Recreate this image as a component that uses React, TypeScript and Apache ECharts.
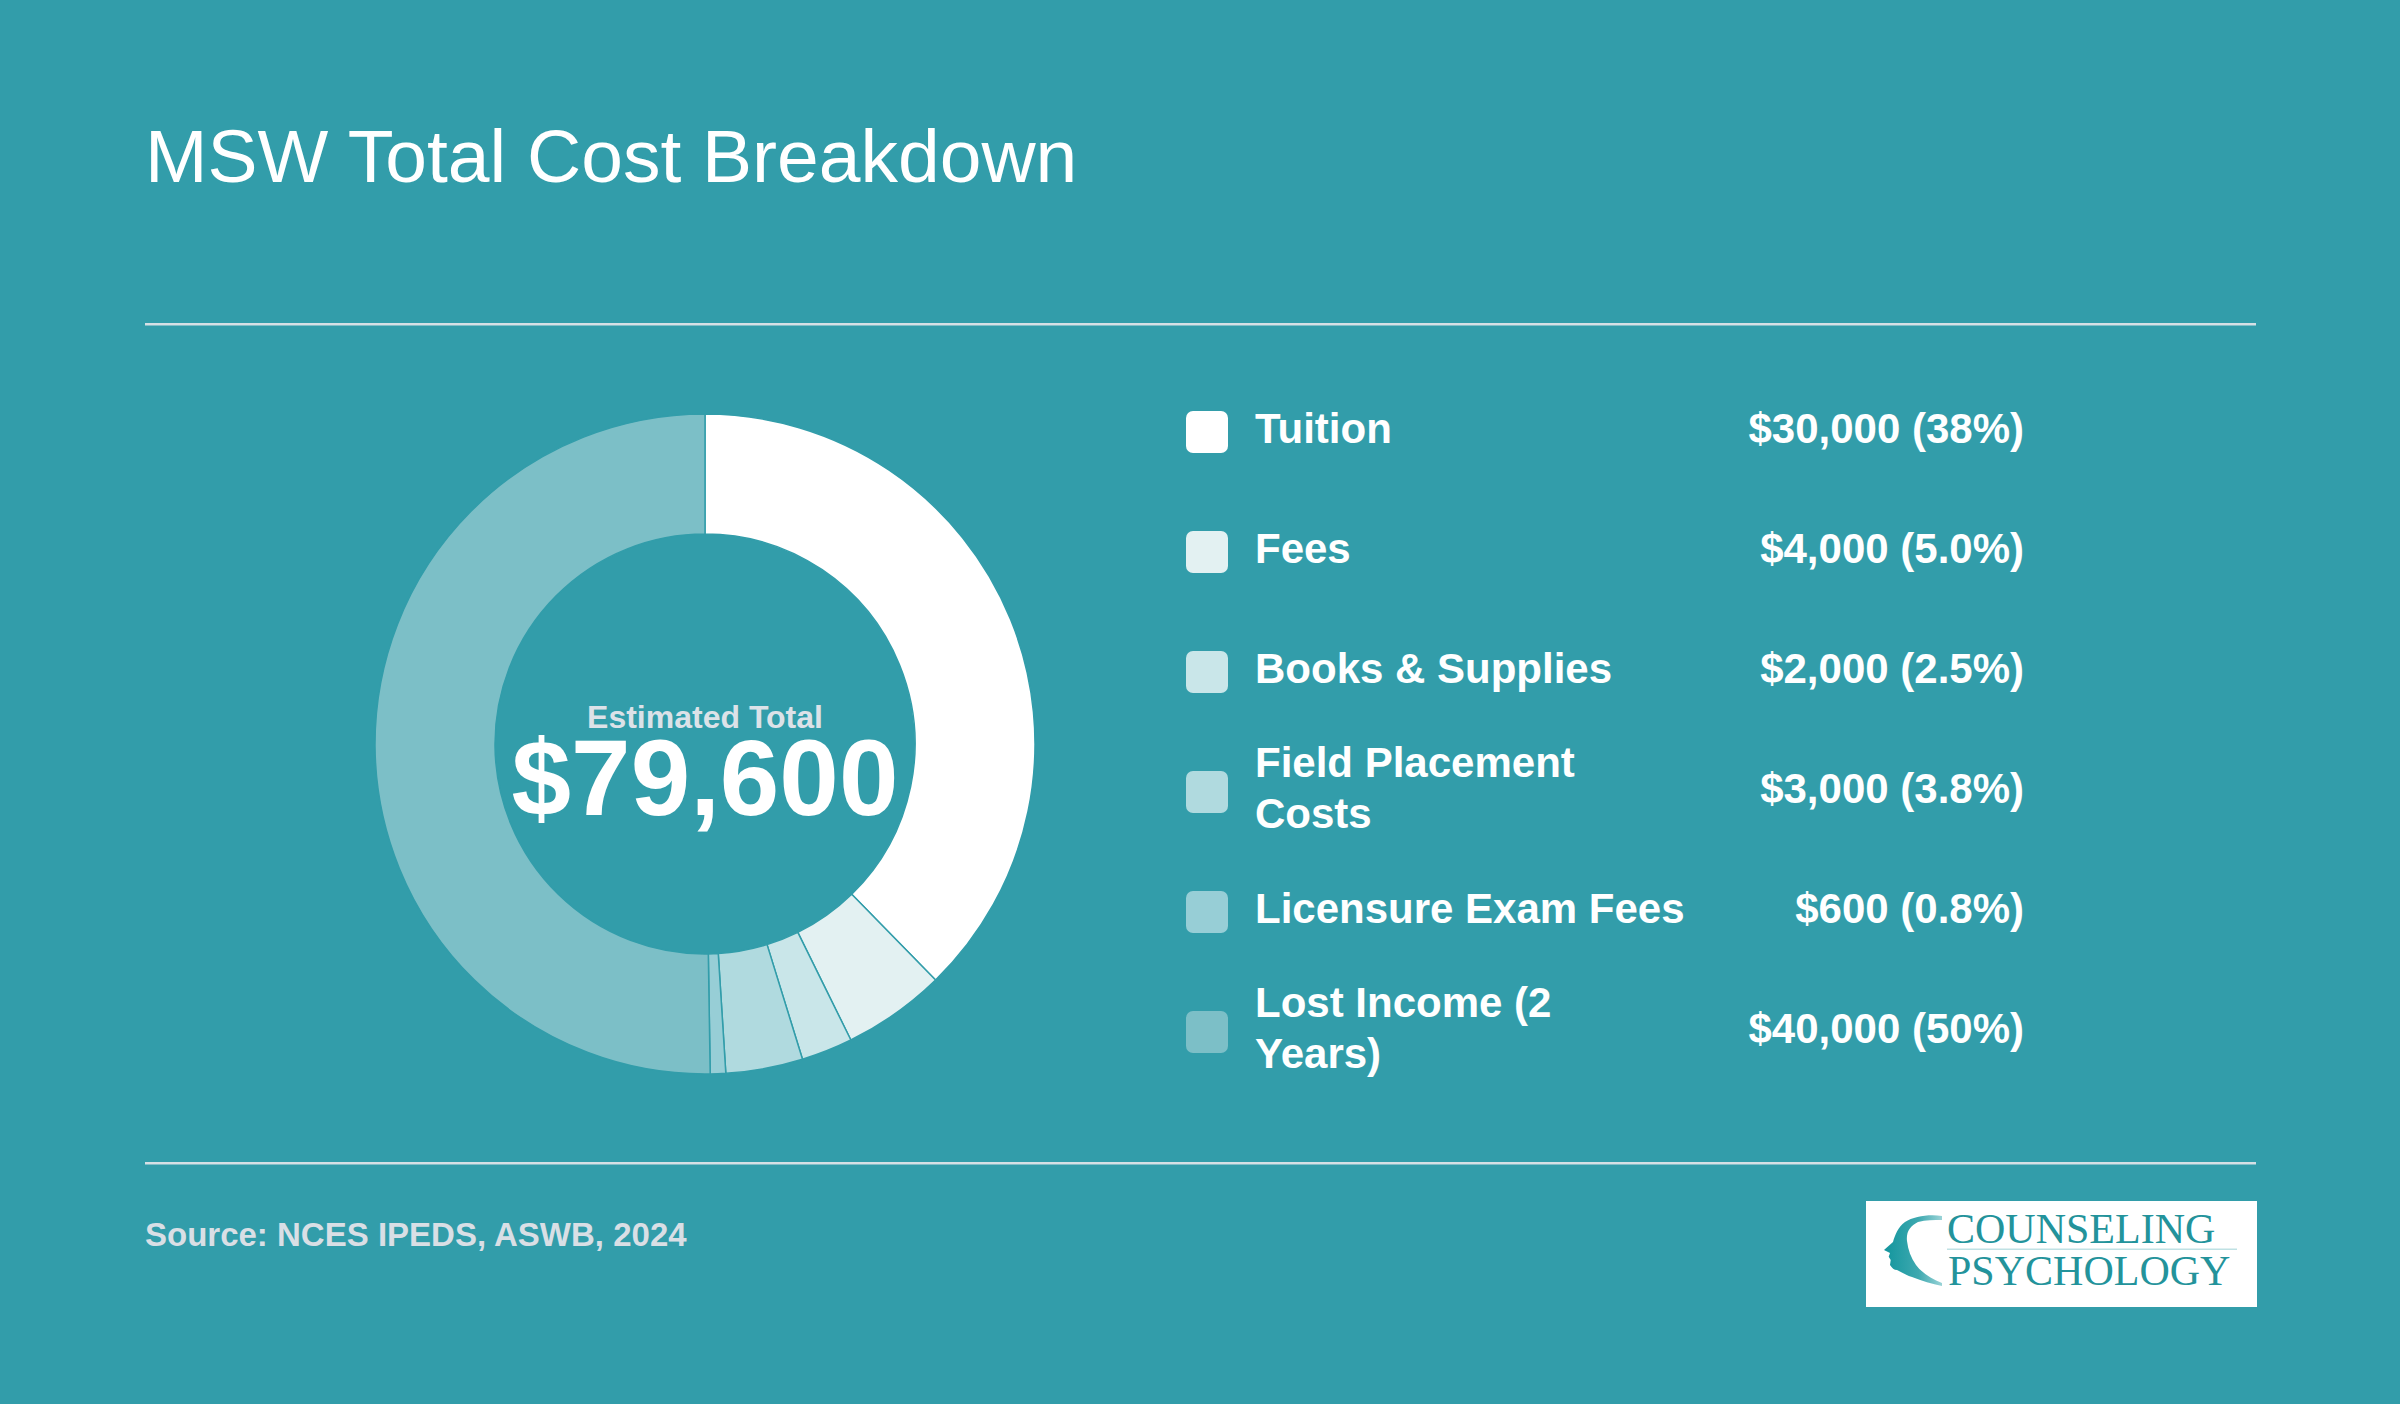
import React, { useEffect, useRef } from "react";
import * as echarts from "echarts";

// ---------- data ----------
const categories = [
  "Tuition",
  "Fees",
  "Books & Supplies",
  "Field Placement Costs",
  "Licensure Exam Fees",
  "Lost Income (2 Years)",
];
const legendLabels = [
  "Tuition",
  "Fees",
  "Books & Supplies",
  "Field Placement\nCosts",
  "Licensure Exam Fees",
  "Lost Income (2\nYears)",
];
const costs = [30000, 4000, 2000, 3000, 600, 40000];
const sliceColors = ["#FFFFFF", "#E3F1F2", "#C9E6E9", "#B0DADF", "#97CED6", "#7CBFC7"];

const titleText = "MSW Total Cost Breakdown";
const centerCaption = "Estimated Total";
const sourceText = "Source: NCES IPEDS, ASWB, 2024";
const logoLines = ["COUNSELING", "PSYCHOLOGY"];

// ---------- styles ----------
const BG = "#329DAA";
const SANS = '"Liberation Sans", Arial, Helvetica, sans-serif';
const SERIF = '"Liberation Serif", "Times New Roman", serif';

const HEAD_PATH =
  "M72 11 C60 9 44 11 35 17 C28 22 25 30 23 37 L14 45 L20 48 L18.7 51.7 L20.7 55 L20 60 C22 63 24 65 27 65 C33 68 38 71 42 72 C52 76 62 79 72 81 L72 78 C62 74 52 68 46 60 C41 53 38 45 37 36 C36 27 40 21 48 17 C56 15 64 15 72 15 Z";

let shapeRegistered = false;
function ensureShape() {
  if (shapeRegistered) return;
  echarts.graphic.registerShape("cpHead", (echarts.graphic as any).extendPath(HEAD_PATH, {}));
  shapeRegistered = true;
}

function fmtMoney(v: number) {
  return "$" + v.toLocaleString("en-US");
}
function fmtPct(p: number) {
  return p >= 10 ? Math.round(p) + "%" : p.toFixed(1) + "%";
}

export default function App() {
  const ref = useRef<HTMLDivElement>(null);

  useEffect(() => {
    document.body.style.margin = "0";
    ensureShape();
    const chart = echarts.init(ref.current as HTMLDivElement, null, {
      renderer: "svg",
      width: 2400,
      height: 1404,
    });

    const total = costs.reduce((a, b) => a + b, 0);

    const legendEls: any[] = [];
    const rowTop = 432;
    const rowStep = 120;
    categories.forEach((_, i) => {
      const cy = rowTop + rowStep * i;
      legendEls.push({
        type: "rect",
        shape: { x: 1186, y: cy - 21, width: 42, height: 42, r: 7 },
        style: { fill: sliceColors[i] },
        silent: true,
      });
      legendEls.push({
        type: "text",
        x: 1255,
        y: cy - 4,
        style: {
          text: legendLabels[i],
          fill: "#FFFFFF",
          font: `bold 42px ${SANS}`,
          align: "left",
          verticalAlign: "middle",
          lineHeight: 51,
        },
        silent: true,
      });
      legendEls.push({
        type: "text",
        x: 2024,
        y: cy - 4,
        style: {
          text: `${fmtMoney(costs[i])} (${fmtPct((costs[i] / total) * 100)})`,
          fill: "#FFFFFF",
          font: `bold 42px ${SANS}`,
          align: "right",
          verticalAlign: "middle",
        },
        silent: true,
      });
    });

    const option: any = {
      animation: false,
      backgroundColor: BG,
      series: [
        {
          type: "pie",
          center: [705, 744],
          radius: [210, 330],
          startAngle: 90,
          clockwise: true,
          silent: true,
          avoidLabelOverlap: false,
          label: { show: false },
          labelLine: { show: false },
          emphasis: { disabled: true },
          itemStyle: { borderColor: BG, borderWidth: 1.5 },
          data: categories.map((name, i) => ({
            name,
            value: costs[i],
            itemStyle: { color: sliceColors[i] },
          })),
        },
      ],
      graphic: {
        elements: [
          {
            type: "text",
            x: 145,
            y: 156,
            style: {
              text: titleText,
              fill: "#FFFFFF",
              font: `normal 75px ${SANS}`,
              align: "left",
              verticalAlign: "middle",
            },
            silent: true,
          },
          {
            type: "rect",
            shape: { x: 145, y: 323, width: 2111, height: 2.5 },
            style: { fill: "#D6E0E5" },
            silent: true,
          },
          {
            type: "rect",
            shape: { x: 145, y: 1162, width: 2111, height: 2.5 },
            style: { fill: "#D6E0E5" },
            silent: true,
          },
          {
            type: "text",
            x: 705,
            y: 717,
            style: {
              text: centerCaption,
              fill: "#DCE2E8",
              font: `bold 32px ${SANS}`,
              align: "center",
              verticalAlign: "middle",
              lineHeight: 24,
            },
            silent: true,
          },
          {
            type: "text",
            x: 705,
            y: 778,
            style: {
              text: fmtMoney(total),
              fill: "#FFFFFF",
              font: `bold 107px ${SANS}`,
              align: "center",
              verticalAlign: "middle",
              lineHeight: 80,
            },
            silent: true,
          },
          ...legendEls,
          {
            type: "text",
            x: 145,
            y: 1234,
            style: {
              text: sourceText,
              fill: "#D9DFE5",
              font: `bold 33px ${SANS}`,
              align: "left",
              verticalAlign: "middle",
            },
            silent: true,
          },
          {
            type: "rect",
            shape: { x: 1866, y: 1201, width: 391, height: 106 },
            style: { fill: "#FFFFFF" },
            silent: true,
          },
          {
            type: "cpHead",
            x: 1870,
            y: 1205,
            style: {
              fill: {
                type: "linear",
                x: 0,
                y: 0,
                x2: 1,
                y2: 0,
                colorStops: [
                  { offset: 0, color: "#12959D" },
                  { offset: 0.6, color: "#3EA9B0" },
                  { offset: 1, color: "#9AD3D7" },
                ],
              },
            },
            silent: true,
          },
          {
            type: "text",
            x: 1947,
            y: 1229,
            style: {
              text: logoLines[0],
              fill: "#23939B",
              font: `normal 42px ${SERIF}`,
              align: "left",
              verticalAlign: "middle",
            },
            silent: true,
          },
          {
            type: "rect",
            shape: { x: 1947, y: 1248.5, width: 290, height: 1.5 },
            style: { fill: "#BFE1E4" },
            silent: true,
          },
          {
            type: "text",
            x: 1948,
            y: 1271,
            style: {
              text: logoLines[1],
              fill: "#23939B",
              font: `normal 42px ${SERIF}`,
              align: "left",
              verticalAlign: "middle",
            },
            silent: true,
          },
        ],
      },
    };

    chart.setOption(option);
    return () => chart.dispose();
  }, []);

  return <div ref={ref} style={{ width: 2400, height: 1404 }} />;
}
